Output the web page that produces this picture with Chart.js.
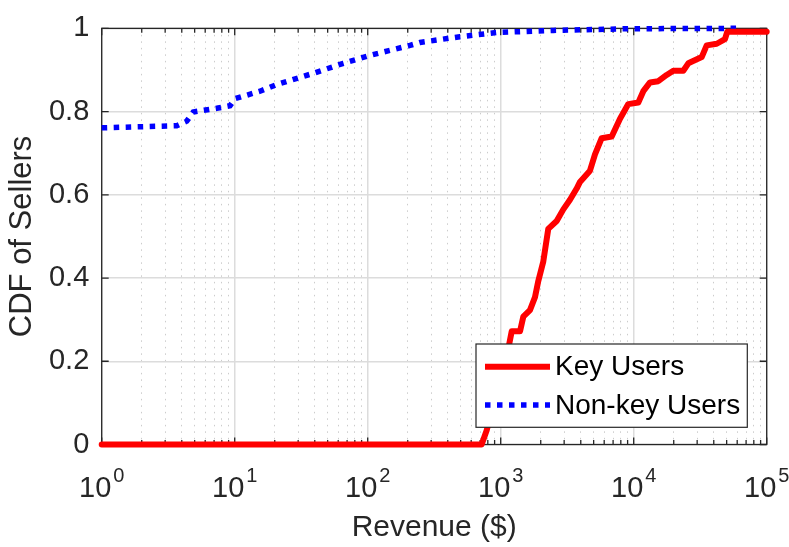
<!DOCTYPE html>
<html>
<head>
<meta charset="utf-8">
<title>CDF of Sellers</title>
<script src="https://cdn.jsdelivr.net/npm/chart.js@4.4.1/dist/chart.umd.min.js"></script>
<style>
    html, body { margin: 0; padding: 0; background: #ffffff; }
    #wrap { width: 789px; height: 547px; }
</style>
</head>
<body>
<div id="wrap"><canvas id="cdfChart" width="789" height="547"></canvas></div>
<script>
// values
const seriesNames = ['Key Users', 'Non-key Users'];

const keyRevenue = [1, 719, 785, 1153, 1210, 1397, 1479, 1660, 1811, 1918, 2091, 2278, 2636, 2957, 3319,
    3726, 3946, 4691, 5116, 5742, 6834, 7891, 9106, 10834, 11811, 13264, 15307, 17698, 19850, 23593,
    25741, 32459, 35378, 42103, 48552, 50555, 100000];
const keyCdf = [0, 0, 0.034, 0.238, 0.272, 0.272, 0.307, 0.323, 0.354, 0.393, 0.44, 0.518, 0.537, 0.565, 0.588,
    0.615, 0.631, 0.658, 0.697, 0.736, 0.74, 0.783, 0.818, 0.822, 0.849, 0.87, 0.873, 0.888, 0.898, 0.898,
    0.916, 0.931, 0.959, 0.963, 0.974, 0.992, 0.992];

const nonKeyRevenue = [1, 3.66, 4.36, 4.88, 7.32, 9.22, 10.05, 15.5, 20.7, 39, 65.6, 104, 208, 247, 494,
    933, 2484, 8851, 59450];
const nonKeyCdf = [0.761, 0.766, 0.777, 0.799, 0.808, 0.814, 0.831, 0.849, 0.865, 0.892, 0.916, 0.935, 0.959,
    0.966, 0.98, 0.99, 0.995, 0.999, 1];

const xDecades = [0, 1, 2, 3, 4, 5];
const xMinorMantissas = [2, 3, 4, 5, 6, 7, 8, 9];
const yTicks = [0, 0.2, 0.4, 0.6, 0.8, 1];

const axisColor = '#262626';
const fontFamily = "'Liberation Sans', Arial, Helvetica, sans-serif";


function buildXTicks() {
    const ticks = [];
    xDecades.forEach(d => {
        ticks.push({ value: Math.pow(10, d), major: true });
        if (d < xDecades[xDecades.length - 1]) {
            xMinorMantissas.forEach(m => ticks.push({ value: m * Math.pow(10, d), major: false }));
        }
    });
    return ticks;
}

function toPoints(xs, ys) {
    return xs.map((x, i) => ({ x: x, y: ys[i] }));
}

// box round the plot with inward ticks on all four sides
const axesBoxPlugin = {
    id: 'axesBox',
    beforeDatasetsDraw(chart) {
        const { ctx, chartArea: a, scales } = chart;
        ctx.save();
        ctx.strokeStyle = axisColor;
        ctx.lineWidth = 1.3;
        ctx.strokeRect(a.left, a.top, a.width, a.height);
        ctx.beginPath();
        scales.x.ticks.forEach(t => {
            const px = scales.x.getPixelForValue(t.value);
            const len = t.major ? 7 : 4.5;
            ctx.moveTo(px, a.bottom);
            ctx.lineTo(px, a.bottom - len);
            ctx.moveTo(px, a.top);
            ctx.lineTo(px, a.top + len);
        });
        scales.y.ticks.forEach(t => {
            const py = scales.y.getPixelForValue(t.value);
            ctx.moveTo(a.left, py);
            ctx.lineTo(a.left + 7, py);
            ctx.moveTo(a.right, py);
            ctx.lineTo(a.right - 7, py);
        });
        ctx.stroke();
        ctx.restore();
    },
    afterDraw(chart) {
        // 10^k labels under the x axis
        const { ctx, chartArea: a, scales } = chart;
        ctx.save();
        ctx.fillStyle = axisColor;
        ctx.textBaseline = 'alphabetic';
        ctx.textAlign = 'left';
        xDecades.forEach(d => {
            const px = scales.x.getPixelForValue(Math.pow(10, d));
            ctx.font = '29px ' + fontFamily;
            const baseW = ctx.measureText('10').width;
            ctx.font = '20px ' + fontFamily;
            const supW = ctx.measureText(String(d)).width;
            const left = px - (baseW + 2 + supW) / 2;
            ctx.font = '29px ' + fontFamily;
            ctx.fillText('10', left, a.bottom + 52.5);
            ctx.font = '20px ' + fontFamily;
            ctx.fillText(String(d), left + baseW + 2, a.bottom + 37.5);
        });
        ctx.restore();
    }
};

// legend box in the lower right corner of the plot
const insideLegendPlugin = {
    id: 'insideLegend',
    afterDraw(chart) {
        const { ctx, chartArea: a } = chart;
        const w = 271.3, h = 83.3;
        const left = a.right - 290.7;
        const top = a.bottom - 100.5;
        ctx.save();
        ctx.fillStyle = '#ffffff';
        ctx.fillRect(left, top, w, h);
        ctx.strokeStyle = axisColor;
        ctx.lineWidth = 1.2;
        ctx.strokeRect(left, top, w, h);

        const rows = [top + 22.7, top + 61];
        chart.data.datasets.forEach((ds, i) => {
            ctx.beginPath();
            ctx.strokeStyle = ds.borderColor;
            ctx.lineWidth = ds.borderWidth;
            ctx.lineCap = 'butt';
            ctx.setLineDash(ds.borderDash || []);
            ctx.moveTo(left + 9, rows[i]);
            ctx.lineTo(left + 74, rows[i]);
            ctx.stroke();
            ctx.setLineDash([]);
            ctx.fillStyle = '#000000';
            ctx.font = '28px ' + fontFamily;
            ctx.textBaseline = 'middle';
            ctx.fillText(ds.label, left + 79, rows[i] + 1);
        });
        ctx.restore();
    }
};


document.addEventListener('DOMContentLoaded', function () {
    const ctx = document.getElementById('cdfChart').getContext('2d');

    window.cdfChartInstance = new Chart(ctx, {
        type: 'line',
        data: {
            datasets: [{
                label: seriesNames[0],
                data: toPoints(keyRevenue, keyCdf),
                borderColor: '#ff0000',
                borderWidth: 6,
                borderJoinStyle: 'round',
                borderCapStyle: 'round',
                pointRadius: 0,
                tension: 0,
                clip: 10
            }, {
                label: seriesNames[1],
                data: toPoints(nonKeyRevenue, nonKeyCdf),
                borderColor: '#0000ff',
                borderWidth: 5.5,
                borderDash: [5.5, 6.5],
                borderCapStyle: 'butt',
                pointRadius: 0,
                tension: 0,
                clip: 10
            }]
        },
        options: {
            responsive: false,
            animation: false,
            layout: {
                padding: { top: 17, right: 22.3, bottom: 0, left: 0 }
            },
            plugins: {
                legend: { display: false },
                tooltip: { enabled: false }
            },
            scales: {
                x: {
                    type: 'logarithmic',
                    min: 1,
                    max: 100000,
                    afterBuildTicks: scale => { scale.ticks = buildXTicks(); },
                    afterFit: scale => { scale.height = 102.5; },
                    ticks: { display: false, autoSkip: false },
                    border: {
                        display: false,
                        dash: c => (c.tick && c.tick.major) ? [] : [1.5, 5]
                    },
                    grid: {
                        drawTicks: false,
                        color: c => (c.tick && c.tick.major) ? '#dcdcdc' : '#cccccc',
                        lineWidth: c => (c.tick && c.tick.major) ? 1.5 : 1
                    },
                    title: {
                        display: true,
                        text: 'Revenue ($)',
                        color: axisColor,
                        font: { family: fontFamily, size: 30 },
                        padding: { top: 0, bottom: 1 }
                    }
                },
                y: {
                    type: 'linear',
                    min: 0,
                    max: 1,
                    afterBuildTicks: scale => { scale.ticks = yTicks.map(v => ({ value: v })); },
                    afterFit: scale => { scale.width = 101.7; },
                    ticks: {
                        color: axisColor,
                        padding: 12.4,
                        font: { family: fontFamily, size: 29, lineHeight: 1.1 },
                        callback: v => String(v)
                    },
                    border: { display: false },
                    grid: {
                        drawTicks: false,
                        color: '#dcdcdc',
                        lineWidth: 1.5
                    },
                    title: {
                        display: true,
                        text: 'CDF of Sellers',
                        color: axisColor,
                        font: { family: fontFamily, size: 31 },
                        padding: { top: 4, bottom: 0 }
                    }
                }
            }
        },
        plugins: [axesBoxPlugin, insideLegendPlugin]
    });
});
</script>
</body>
</html>
